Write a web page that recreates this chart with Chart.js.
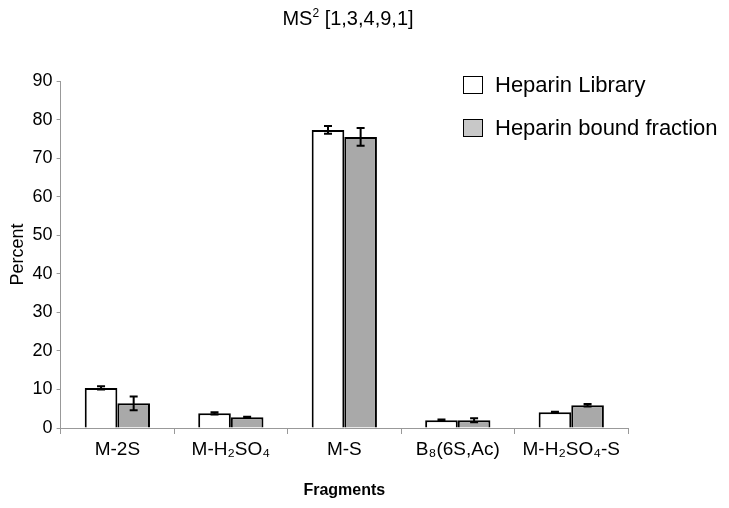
<!DOCTYPE html>
<html>
<head>
<meta charset="utf-8">
<script src="https://cdn.jsdelivr.net/npm/chart.js@4/dist/chart.umd.min.js"></script>
<style>
  html, body { margin: 0; padding: 0; background: #fff; }
  #wrap { position: relative; width: 729px; height: 508px; }
  #title { position: absolute; left: 0; top: 6px; width: 696px; text-align: center; font-family: "Liberation Sans", Arial, sans-serif; font-size: 20px; color: #000; }
  #legend { position: absolute; left: 463px; top: 73px; font-family: "Liberation Sans", Arial, sans-serif; font-size: 22px; color: #000; }
  #legend div { display: flex; align-items: center; height: 24px; margin-bottom: 19px; white-space: nowrap; }
  #legend span.box { display: inline-block; width: 20px; height: 18px; border: 1.5px solid #000; margin-right: 12px; box-sizing: border-box; }
</style>
</head>
<body>
<div id="wrap">
  <canvas id="chart" width="729" height="508"></canvas>
  <div id="title">MS<sup style="font-size:12px">2</sup> [1,3,4,9,1]</div>
  <div id="legend"></div>
</div>
<script>
const categories = ['M-2S', 'M-H\u2082SO\u2084', 'M-S', 'B\u2088(6S,Ac)', 'M-H\u2082SO\u2084-S'];
const seriesNames = ['Heparin Library', 'Heparin bound fraction'];
const libraryValues = [10.4, 3.8, 77.3, 2.0, 4.1];
const libraryErrors = [0.4, 0.3, 1.0, 0.2, 0.1];
const boundValues = [6.4, 2.8, 75.5, 2.0, 5.9];
const boundErrors = [1.8, 0.1, 2.3, 0.5, 0.3];
const yTicks = [0, 10, 20, 30, 40, 50, 60, 70, 80, 90];

const fillColors = ['#ffffff', '#a9a9a9'];
const legendColors = ['#ffffff', '#c8c8c8'];

// error bars drawn on top of the bars
const errorBars = {
    id: 'errorBars',
    afterDatasetsDraw(chart) {
        const ctx = chart.ctx;
        const y = chart.scales.y;
        const errs = [libraryErrors, boundErrors];
        ctx.save();
        ctx.strokeStyle = '#000';
        ctx.lineWidth = 2;
        chart.data.datasets.forEach((ds, i) => {
            const meta = chart.getDatasetMeta(i);
            meta.data.forEach((bar, j) => {
                const v = ds.data[j];
                const e = errs[i][j];
                const top = y.getPixelForValue(v + e);
                const bot = y.getPixelForValue(v - e);
                ctx.beginPath();
                ctx.moveTo(bar.x, top);
                ctx.lineTo(bar.x, bot);
                ctx.moveTo(bar.x - 4, top);
                ctx.lineTo(bar.x + 4, top);
                ctx.moveTo(bar.x - 4, bot);
                ctx.lineTo(bar.x + 4, bot);
                ctx.stroke();
            });
        });
        ctx.restore();
    }
};

const legendEl = document.getElementById('legend');
seriesNames.forEach((name, i) => {
    const row = document.createElement('div');
    row.innerHTML = '<span class="box" style="background:' + legendColors[i] + '"></span>' + name;
    legendEl.appendChild(row);
});

Chart.defaults.font.family = '"Liberation Sans", Arial, sans-serif';
Chart.defaults.color = '#000';

new Chart(document.getElementById('chart').getContext('2d'), {
    type: 'bar',
    data: {
        labels: categories,
        datasets: [
            { label: seriesNames[0], data: libraryValues, backgroundColor: fillColors[0], borderColor: '#000', borderWidth: 2, borderSkipped: 'bottom' },
            { label: seriesNames[1], data: boundValues, backgroundColor: fillColors[1], borderColor: '#000', borderWidth: 2, borderSkipped: 'bottom' }
        ]
    },
    options: {
        responsive: false,
        animation: false,
        categoryPercentage: 0.575,
        barPercentage: 1.0,
        layout: { padding: { left: 0, right: 101, top: 81, bottom: 4 } },
        plugins: {
            legend: { display: false },
            tooltip: { enabled: false },
            title: { display: false }
        },
        scales: {
            x: {
                grid: { display: true, drawOnChartArea: false, offset: true, color: '#999', tickLength: 6 },
                border: { color: '#999', width: 1 },
                ticks: { font: { size: 19 }, padding: 4, maxRotation: 0, autoSkip: false },
                title: { display: true, text: 'Fragments', font: { size: 16, weight: 'bold' }, padding: { top: 16 } }
            },
            y: {
                min: 0,
                max: 90,
                afterBuildTicks(axis) { axis.ticks = yTicks.map(v => ({ value: v })); },
                grid: { display: true, drawOnChartArea: false, color: '#999', tickLength: 4 },
                border: { color: '#999', width: 1 },
                ticks: { font: { size: 18 }, padding: 4 },
                title: { display: true, text: 'Percent', font: { size: 18 }, padding: { top: 7, bottom: 0 } }
            }
        }
    },
    plugins: [errorBars]
});
</script>
</body>
</html>
